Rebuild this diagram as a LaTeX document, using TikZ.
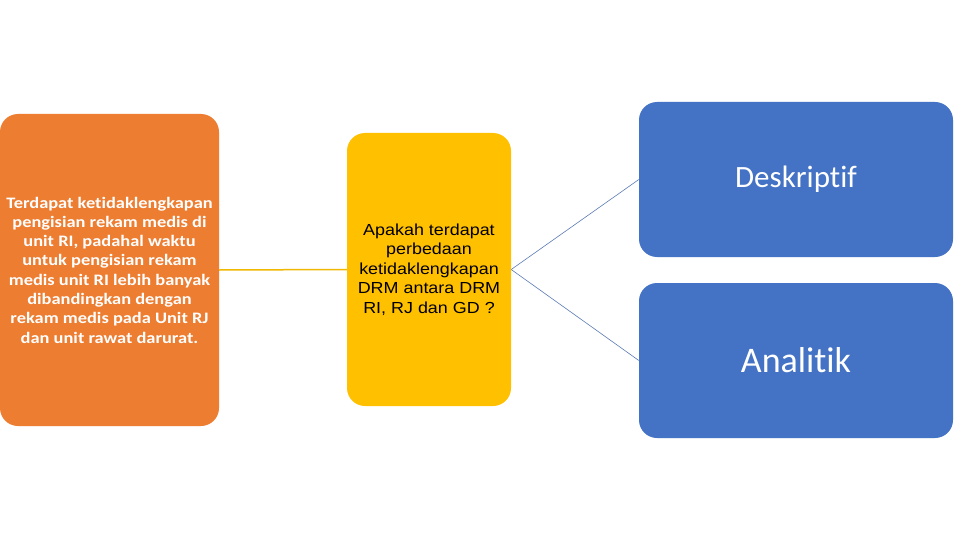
\documentclass[tikz,border=0pt]{standalone}
\usepackage{fontspec}
\setmainfont{Carlito}[Ligatures=NoCommon]
\newfontfamily\widecarlito[FakeStretch=1.15,Ligatures=NoCommon]{Carlito}
\newfontfamily\widearial[FakeStretch=1.12]{Liberation Sans}
\definecolor{boxorange}{HTML}{ED7D31}
\definecolor{boxyellow}{HTML}{FFC000}
\definecolor{boxblue}{HTML}{4472C4}
\definecolor{linegold}{HTML}{F0B800}
\definecolor{lineblue}{HTML}{5B7BB5}
\begin{document}
\begin{tikzpicture}[x=1pt,y=-1pt,
  card/.style={rounded corners=18pt, inner sep=0pt, align=center, draw=none},
  orangecard/.style={card, fill=boxorange, text=white, minimum width=219pt, minimum height=312pt,
    font=\widecarlito\fontsize{16}{19.3}\selectfont\bfseries},
  yellowcard/.style={card, fill=boxyellow, text=black, minimum width=164pt, minimum height=273pt,
    font=\widearial\fontsize{16}{19.5}\selectfont},
  bluecard/.style={card, fill=boxblue, text=white, minimum width=314pt, minimum height=155pt},
  goldlink/.style={draw=linegold, line width=1.5pt},
  bluelink/.style={draw=lineblue, line width=0.6pt}]
\useasboundingbox (0,0) rectangle (960,540);
\fill[white] (0,0) rectangle (960,540);
\node[orangecard] (o) at (109.5,270) {Terdapat ketidaklengkapan\\pengisian rekam medis di\\unit RI, padahal waktu\\untuk pengisian rekam\\medis unit RI lebih banyak\\dibandingkan dengan\\rekam medis pada Unit RJ\\dan unit rawat darurat.};
\node[yellowcard] (q) at (429,269.5) {Apakah terdapat\\perbedaan\\ketidaklengkapan\\DRM antara DRM\\RI, RJ dan GD ?};
\node[bluecard, font=\fontsize{31}{36}\selectfont] (d) at (796,179.5) {Deskriptif};
\node[bluecard, font=\fontsize{36}{42}\selectfont] (a) at (796,360.5) {Analitik};
\draw[goldlink] (o.east) -- (q.west);
\draw[bluelink] (q.east) -- (d.west);
\draw[bluelink] (q.east) -- (a.west);
\end{tikzpicture}
\end{document}
